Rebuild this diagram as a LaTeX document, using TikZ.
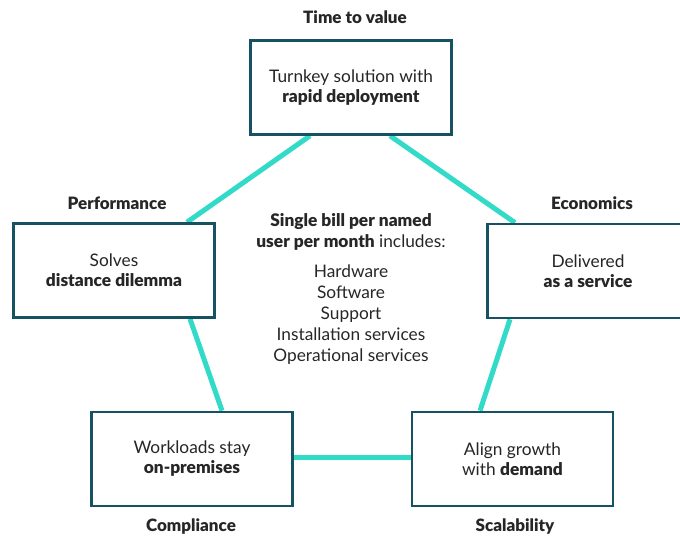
\documentclass[tikz,border=0pt]{standalone}
\usepackage{fontspec}
\setmainfont{Lato}[BoldFont={Lato Black}]
\usetikzlibrary{positioning, backgrounds}
\definecolor{boxteal}{RGB}{22,82,98}
\definecolor{linkteal}{RGB}{50,218,200}
\definecolor{inkgray}{RGB}{38,38,38}

\begin{document}
\begin{tikzpicture}[x=1pt, y=-1pt,
  pillar/.style={draw=boxteal, line width=2.6pt, fill=white, minimum width=201pt, minimum height=94pt, align=center, text=inkgray, font=\fontsize{17.3}{20}\selectfont},
  title/.style={anchor=base, text=inkgray, font=\fontsize{17}{19}\selectfont\bfseries},
  link/.style={draw=linkteal, line width=5pt}]
  \useasboundingbox (0,0) rectangle (680,537);

  \node[pillar] (ttv)   at (351,87.5)  {Turnkey solution with\\\textbf{rapid deployment}};
  \node[pillar] (perf)  at (114,270.5) {Solves\\\textbf{distance dilemma}};
  \node[pillar] (econ)  at (588,271)   {Delivered\\\textbf{as a service}};
  \node[pillar] (compl) at (192,459)   {Workloads stay\\\textbf{on-premises}};
  \node[pillar] (scal)  at (512.5,459) {Align growth\\with \textbf{demand}};

  \node[title] (ttvlabel)   at (355,23.5)  {Time to value};
  \node[title] (perflabel)  at (117,209.5) {Performance};
  \node[title] (econlabel)  at (592,209.5) {Economics};
  \node[title] (compllabel) at (191,531.5) {Compliance};
  \node[title] (scallabel)  at (515,531.5) {Scalability};

  \node[align=center, text=inkgray, font=\fontsize{17.3}{21}\selectfont] (bill) at (351,289)
    {\textbf{Single bill per named}\\\textbf{user per month} includes:\\[9pt]
     Hardware\\Software\\Support\\Installation services\\Operational services};

  \begin{scope}[on background layer]
    \draw[link] ([xshift=-41pt]ttv.south) -- ([xshift=73pt]perf.north);
    \draw[link] ([xshift=39pt]ttv.south) -- ([xshift=-73pt]econ.north);
    \draw[link] ([xshift=76pt]perf.south) -- ([xshift=30pt]compl.north);
    \draw[link] ([xshift=-78pt]econ.south) -- ([xshift=-32.5pt]scal.north);
    \draw[link] ([yshift=2pt]compl.east) -- ([yshift=2pt]scal.west);
  \end{scope}
\end{tikzpicture}
\end{document}
